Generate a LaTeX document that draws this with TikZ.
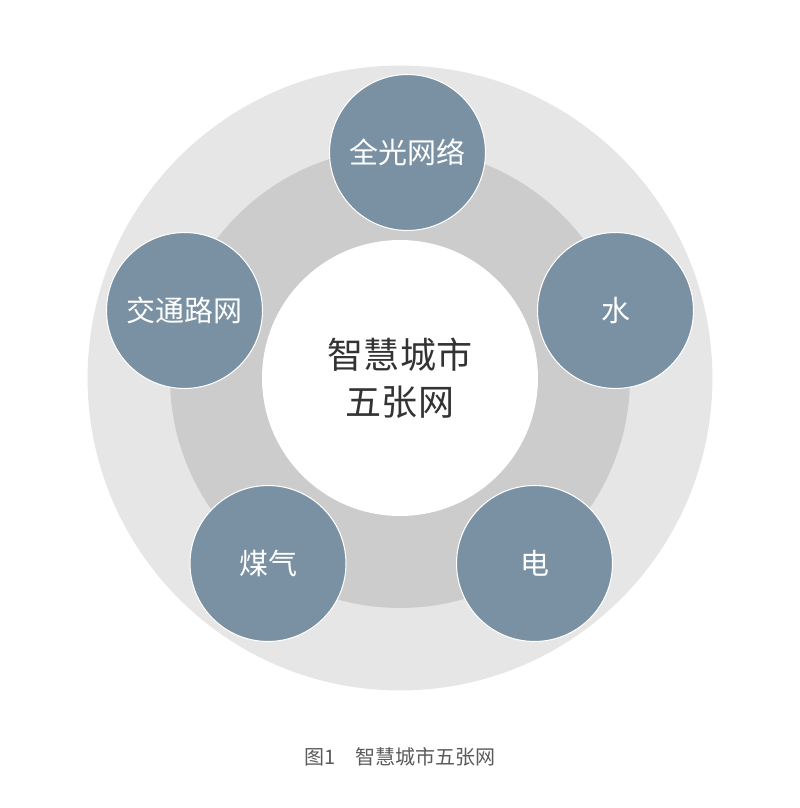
\documentclass[tikz,border=0pt]{standalone}
\usepackage{fontspec}
\newfontfamily\cjk{Noto Sans CJK SC}
\usetikzlibrary{positioning}
\definecolor{grisclaro}{HTML}{E6E6E6}
\definecolor{grismedio}{HTML}{CCCCCC}
\definecolor{azulpizarra}{HTML}{7A91A3}
\definecolor{textooscuro}{HTML}{333333}
\definecolor{textopie}{HTML}{5A5A5A}
\colorlet{colAnilloExt}{grisclaro}
\colorlet{colAnilloMed}{grismedio}
\colorlet{colRed}{azulpizarra}
\tikzset{
  anillo/.style={circle, draw=none, inner sep=0pt},
  anilloExt/.style={anillo, fill=colAnilloExt, minimum size=12.5cm},
  anilloMed/.style={anillo, fill=colAnilloMed, minimum size=9.2cm},
  nucleo/.style={anillo, fill=white, minimum size=5.52cm,
    align=center, font=\cjk\fontsize{20.5}{27}\selectfont, text=textooscuro},
  nodoRed/.style={circle, draw=white, line width=0.6pt, fill=colRed,
    minimum size=3.12cm, inner sep=0pt,
    font=\cjk\fontsize{16.5}{20}\selectfont, text=white},
  pie/.style={font=\cjk\fontsize{11.4}{14}\selectfont, text=textopie},
}
\begin{document}
\begin{tikzpicture}[x=0.02cm, y=-0.02cm]
    \useasboundingbox (0,0) rectangle (800,808);
    \node[anilloExt] (externo) at (400,378) {};
    \node[anilloMed] (medio) at (400,378) {};
    \node[nucleo] (centro) at (400,378) {智慧城市\\五张网};
    % las cinco redes
    \node[nodoRed] (guang) at (407.5,152.5) {全光网络};
    \node[nodoRed] (shui) at (615.5,310.5) {水};
    \node[nodoRed] (dian) at (534.5,563.5) {电};
    \node[nodoRed] (meiqi) at (268,563.5) {煤气};
    \node[nodoRed] (jiaotong) at (184.5,310.5) {交通路网};
    \node[pie] (titulo) at (400,757) {图1\quad 智慧城市五张网};
  \end{tikzpicture}
\end{document}
